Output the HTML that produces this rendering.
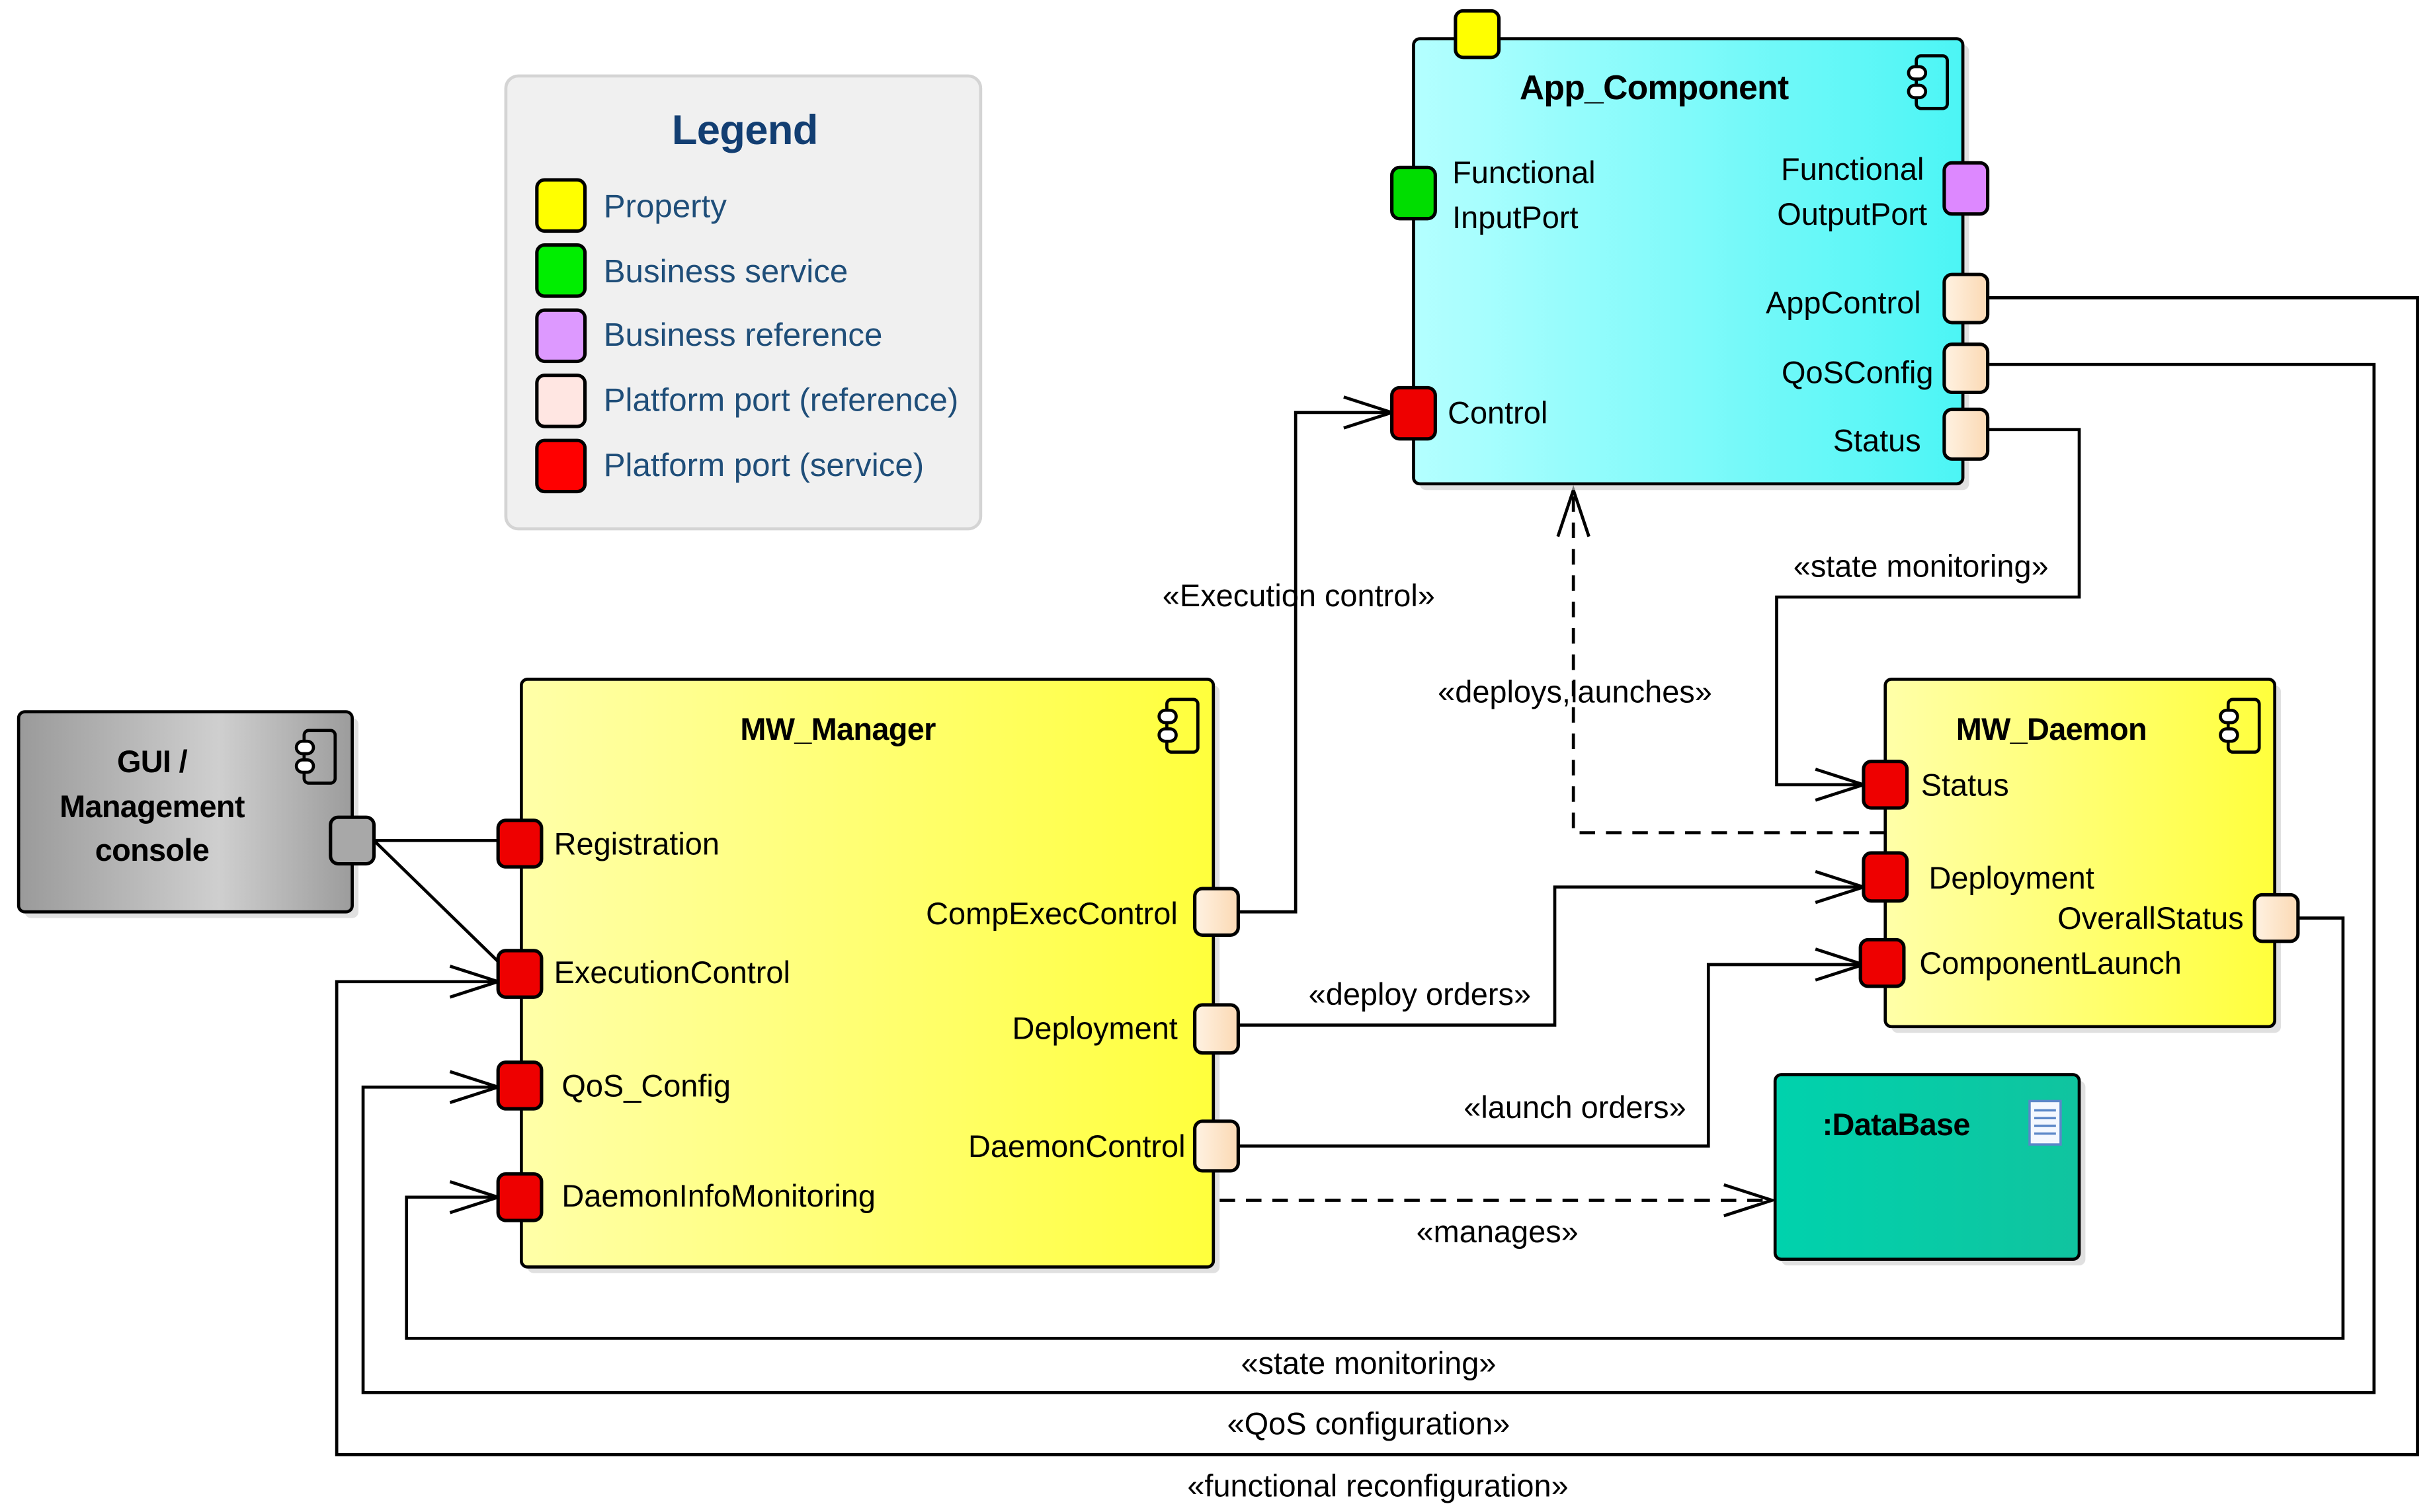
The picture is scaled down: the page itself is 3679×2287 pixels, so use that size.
<!DOCTYPE html>
<html><head><meta charset="utf-8"><style>
html,body{margin:0;padding:0;background:#fff}
svg{display:block}
text{font-family:"Liberation Sans",sans-serif;font-size:20px;letter-spacing:0px;fill:#000}
.b{font-weight:bold;letter-spacing:-0.3px}
.lg{fill:#1f4e79;font-size:21px}
.ln{fill:none;stroke:#000;stroke-width:2}
.ds{fill:none;stroke:#000;stroke-width:2;stroke-dasharray:10,7}
.pt{stroke:#000;stroke-width:2.2}
</style></head><body>
<svg width="3679" height="2287" viewBox="0 0 1568 975" preserveAspectRatio="none" xmlns="http://www.w3.org/2000/svg">
<defs>
<linearGradient id="cy" x1="0" x2="1"><stop offset="0" stop-color="#b4ffff"/><stop offset="1" stop-color="#4cf5f5"/></linearGradient>
<linearGradient id="yl" x1="0" x2="1"><stop offset="0" stop-color="#ffffa8"/><stop offset="1" stop-color="#ffff3c"/></linearGradient>
<linearGradient id="gr" x1="0" x2="1"><stop offset="0" stop-color="#9a9a9a"/><stop offset="0.6" stop-color="#cfcfcf"/><stop offset="1" stop-color="#9c9c9c"/></linearGradient>
<linearGradient id="tl" x1="0" x2="1"><stop offset="0" stop-color="#00d2ad"/><stop offset="1" stop-color="#10c49f"/></linearGradient>
<linearGradient id="pc" x1="0" x2="1"><stop offset="0" stop-color="#fff2e2"/><stop offset="1" stop-color="#fbd9b4"/></linearGradient>
<g id="ic"><rect x="5" y="0" width="20" height="34" rx="3" fill="none" stroke="#000" stroke-width="2"/><rect x="0" y="7" width="11" height="8" rx="4" fill="#fff" stroke="#000" stroke-width="2"/><rect x="0" y="19" width="11" height="8" rx="4" fill="#fff" stroke="#000" stroke-width="2"/></g>
</defs>

<!-- Legend -->
<rect x="326" y="49" width="306" height="292" rx="8" fill="#f0f0f0" stroke="#d4d4d4" stroke-width="2"/>
<text x="480" y="93" class="b" text-anchor="middle" style="font-size:27px;fill:#123e72">Legend</text>
<rect x="346" y="116" width="31" height="33" rx="5" fill="#ffff00" class="pt"/>
<rect x="346" y="158" width="31" height="33" rx="5" fill="#00ee00" class="pt"/>
<rect x="346" y="200" width="31" height="33" rx="5" fill="#dd99ff" class="pt"/>
<rect x="346" y="242" width="31" height="33" rx="5" fill="#ffe6e2" class="pt"/>
<rect x="346" y="284" width="31" height="33" rx="5" fill="#ff0000" class="pt"/>
<text x="389" y="140" class="lg">Property</text>
<text x="389" y="182" class="lg">Business service</text>
<text x="389" y="223" class="lg">Business reference</text>
<text x="389" y="265" class="lg">Platform port (reference)</text>
<text x="389" y="307" class="lg">Platform port (service)</text>

<!-- connectors -->
<polyline class="ln" points="241,542 321,542"/>
<polyline class="ln" points="241,542 321,620"/>
<polyline class="ln" points="798,588 835,588 835,266 897,266"/>
<polyline class="ln" points="798,661 1002,661 1002,572 1201,572"/>
<polyline class="ln" points="798,739 1101,739 1101,622 1201,622"/>
<polyline class="ds" points="786,774 1142,774"/>
<polyline class="ds" points="1215,537 1014,537 1014,316"/>
<polyline class="ln" points="1281,277 1340,277 1340,385 1145,385 1145,506 1201,506"/>
<polyline class="ln" points="1481,592 1510,592 1510,863 262,863 262,772 321,772"/>
<polyline class="ln" points="1281,235 1530,235 1530,898 234,898 234,701 321,701"/>
<polyline class="ln" points="1281,192 1558,192 1558,938 217,938 217,633 321,633"/>
<!-- arrowheads -->
<g class="ln">
<polyline points="866,256 897,266 866,276"/>
<polyline points="1170,562 1201,572 1170,582"/>
<polyline points="1170,612 1201,622 1170,632"/>
<polyline points="1111,764 1142,774 1111,784"/>
<polyline points="1004,346 1014,316 1024,346"/>
<polyline points="1170,496 1201,506 1170,516"/>
<polyline points="290,762 321,772 290,782"/>
<polyline points="290,691 321,701 290,711"/>
<polyline points="290,623 321,633 290,643"/>
</g>
<text x="837" y="391" text-anchor="middle">«Execution control»</text>
<text x="915" y="648" text-anchor="middle">«deploy orders»</text>
<text x="1015" y="721" text-anchor="middle">«launch orders»</text>
<text x="965" y="801" text-anchor="middle">«manages»</text>
<text x="1015" y="453" text-anchor="middle">«deploys,launches»</text>
<text x="1238" y="372" text-anchor="middle">«state monitoring»</text>
<text x="882" y="886" text-anchor="middle">«state monitoring»</text>
<text x="882" y="925" text-anchor="middle">«QoS configuration»</text>
<text x="888" y="965" text-anchor="middle">«functional reconfiguration»</text>

<!-- App_Component -->
<rect x="915" y="29" width="354" height="287" rx="4" fill="#ccc" opacity="0.6"/>
<rect x="911" y="25" width="354" height="287" rx="4" fill="url(#cy)" stroke="#000" stroke-width="2"/>
<rect x="938" y="7" width="28" height="30" rx="5" fill="#ffff00" class="pt"/>
<text x="1066" y="64" class="b" text-anchor="middle" style="font-size:22px">App_Component</text>
<use href="#ic" x="1230" y="36"/>
<rect x="897" y="108" width="28" height="33" rx="5" fill="#00dd00" class="pt"/>
<rect x="1253" y="105" width="28" height="33" rx="5" fill="#dd88ff" class="pt"/>
<rect x="1253" y="177" width="28" height="31" rx="5" fill="url(#pc)" class="pt"/>
<rect x="1253" y="222" width="28" height="31" rx="5" fill="url(#pc)" class="pt"/>
<rect x="1253" y="264" width="28" height="32" rx="5" fill="url(#pc)" class="pt"/>
<rect x="897" y="250" width="28" height="33" rx="5" fill="#ee0000" class="pt"/>
<text x="936" y="118">Functional</text>
<text x="936" y="147">InputPort</text>
<text x="1240" y="116" text-anchor="end">Functional</text>
<text x="1242" y="145" text-anchor="end">OutputPort</text>
<text x="1238" y="202" text-anchor="end">AppControl</text>
<text x="1246" y="247" text-anchor="end">QoSConfig</text>
<text x="1238" y="291" text-anchor="end">Status</text>
<text x="933" y="273">Control</text>

<!-- GUI -->
<rect x="16" y="463" width="215" height="129" rx="4" fill="#ccc" opacity="0.6"/>
<rect x="12" y="459" width="215" height="129" rx="4" fill="url(#gr)" stroke="#000" stroke-width="2"/>
<text x="98" y="498" class="b" text-anchor="middle">GUI /</text>
<text x="98" y="527" class="b" text-anchor="middle">Management</text>
<text x="98" y="555" class="b" text-anchor="middle">console</text>
<use href="#ic" x="191" y="471"/>
<rect x="213" y="527" width="28" height="30" rx="5" fill="#a8a8a8" class="pt"/>

<!-- MW_Manager -->
<rect x="340" y="442" width="446" height="379" rx="4" fill="#ccc" opacity="0.6"/>
<rect x="336" y="438" width="446" height="379" rx="4" fill="url(#yl)" stroke="#000" stroke-width="2"/>
<text x="540" y="477" class="b" text-anchor="middle">MW_Manager</text>
<use href="#ic" x="747" y="451"/>
<rect x="321" y="529" width="28" height="30" rx="5" fill="#ee0000" class="pt"/>
<rect x="321" y="613" width="28" height="30" rx="5" fill="#ee0000" class="pt"/>
<rect x="321" y="685" width="28" height="30" rx="5" fill="#ee0000" class="pt"/>
<rect x="321" y="757" width="28" height="30" rx="5" fill="#ee0000" class="pt"/>
<text x="357" y="551">Registration</text>
<text x="357" y="634">ExecutionControl</text>
<text x="362" y="707">QoS_Config</text>
<text x="362" y="778">DaemonInfoMonitoring</text>
<rect x="770" y="573" width="28" height="30" rx="5" fill="url(#pc)" class="pt"/>
<rect x="770" y="648" width="28" height="31" rx="5" fill="url(#pc)" class="pt"/>
<rect x="770" y="723" width="28" height="32" rx="5" fill="url(#pc)" class="pt"/>
<text x="759" y="596" text-anchor="end">CompExecControl</text>
<text x="759" y="670" text-anchor="end">Deployment</text>
<text x="764" y="746" text-anchor="end">DaemonControl</text>

<!-- MW_Daemon -->
<rect x="1219" y="442" width="251" height="224" rx="4" fill="#ccc" opacity="0.6"/>
<rect x="1215" y="438" width="251" height="224" rx="4" fill="url(#yl)" stroke="#000" stroke-width="2"/>
<text x="1322" y="477" class="b" text-anchor="middle">MW_Daemon</text>
<use href="#ic" x="1431" y="451"/>
<rect x="1201" y="491" width="28" height="30" rx="5" fill="#ee0000" class="pt"/>
<rect x="1201" y="550" width="28" height="31" rx="5" fill="#ee0000" class="pt"/>
<rect x="1199" y="606" width="28" height="30" rx="5" fill="#ee0000" class="pt"/>
<text x="1238" y="513">Status</text>
<text x="1243" y="573">Deployment</text>
<text x="1237" y="628">ComponentLaunch</text>
<rect x="1453" y="577" width="28" height="30" rx="5" fill="url(#pc)" class="pt"/>
<text x="1446" y="599" text-anchor="end">OverallStatus</text>

<!-- DataBase -->
<rect x="1148" y="697" width="196" height="119" rx="4" fill="#ccc" opacity="0.6"/>
<rect x="1144" y="693" width="196" height="119" rx="4" fill="url(#tl)" stroke="#000" stroke-width="2"/>
<text x="1222" y="732" class="b" text-anchor="middle">:DataBase</text>
<rect x="1308" y="710" width="20" height="28" fill="#f4f8ff" stroke="#5b87c8" stroke-width="1.5"/>
<g stroke="#5b87c8" stroke-width="1.5"><line x1="1311" y1="716" x2="1325" y2="716"/><line x1="1311" y1="721" x2="1325" y2="721"/><line x1="1311" y1="726" x2="1325" y2="726"/><line x1="1311" y1="731" x2="1325" y2="731"/></g>
</svg>
</body></html>
